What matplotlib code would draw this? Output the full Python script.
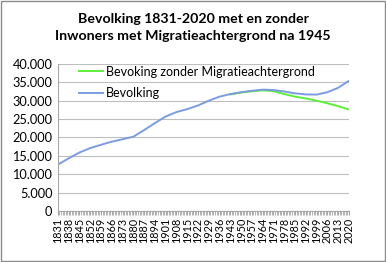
import matplotlib.pyplot as plt
from matplotlib.ticker import FuncFormatter

# jaren met label (elke 7 jaar)
jaren = [1831, 1838, 1845, 1852, 1859, 1866, 1873, 1880, 1887, 1894,
         1901, 1908, 1915, 1922, 1929, 1936, 1943, 1950, 1957, 1964,
         1971, 1978, 1985, 1992, 1999, 2006, 2013, 2020]

# totale bevolking
bevolking = [12600, 14300, 15900, 17100, 18000, 18850, 19500, 20200, 22000, 23900,
             25700, 26900, 27700, 28700, 30000, 31100, 31800, 32300, 32700, 33000,
             32900, 32500, 32000, 31700, 31650, 32300, 33500, 35400]

# bevolking zonder migratieachtergrond (vanaf 1943)
jaren_zonder = [1943, 1950, 1957, 1964, 1971, 1978, 1985, 1992, 1999, 2006, 2013, 2020]
zonder = [31700, 32200, 32550, 32800, 32600, 31800, 31100, 30600, 30000, 29300, 28500, 27600]

groen = '#5df03a'
blauw = '#7b9de0'

plt.rcParams['font.family'] = ['Lato', 'DejaVu Sans']

fig = plt.figure(figsize=(3.86, 2.62), dpi=100)
ax = fig.add_axes([0.150, 0.195, 0.754, 0.561])

ax.plot(jaren_zonder, zonder, color=groen, lw=1.4, label='Bevoking zonder Migratieachtergrond')
ax.plot(jaren, bevolking, color=blauw, lw=1.4, label='Bevolking')

ax.set_xlim(1831, 2020)
ax.set_ylim(0, 40000)
ax.set_yticks(range(0, 40001, 5000))
ax.yaxis.set_major_formatter(FuncFormatter(lambda v, p: f'{int(v):,}'.replace(',', '.')))
ax.grid(axis='y', color='#bfbfbf', lw=0.8)
ax.set_axisbelow(True)

# kleine tickjes per jaar, labels elke 7 jaar
ax.set_xticks(jaren)
ax.set_xticklabels([str(j) for j in jaren], rotation=90, fontsize=7.8)
ax.set_xticks(range(1831, 2021), minor=True)
ax.tick_params(axis='x', which='both', length=3, color='#a6a6a6', pad=2)
ax.tick_params(axis='y', length=0, labelsize=9.2, pad=4)

for s in ['top', 'right']:
    ax.spines[s].set_visible(False)
ax.spines['left'].set_color('#a6a6a6')
ax.spines['bottom'].set_color('#a6a6a6')

ax.legend(loc='upper left', bbox_to_anchor=(0.035, 1.065), frameon=False,
          fontsize=9, handlelength=1.9, handletextpad=0.25, labelspacing=0.75)

fig.text(0.5, 0.895, 'Bevolking 1831-2020 met en zonder\nInwoners met Migratieachtergrond na 1945',
         ha='center', va='center', fontsize=10.2, fontweight='bold', linespacing=1.45)

fig.patches.append(plt.Rectangle((0.002, 0.003), 0.995, 0.993, transform=fig.transFigure,
                                 fill=False, edgecolor='#8c8c8c', lw=1))

fig.savefig('out.png', dpi=100)
